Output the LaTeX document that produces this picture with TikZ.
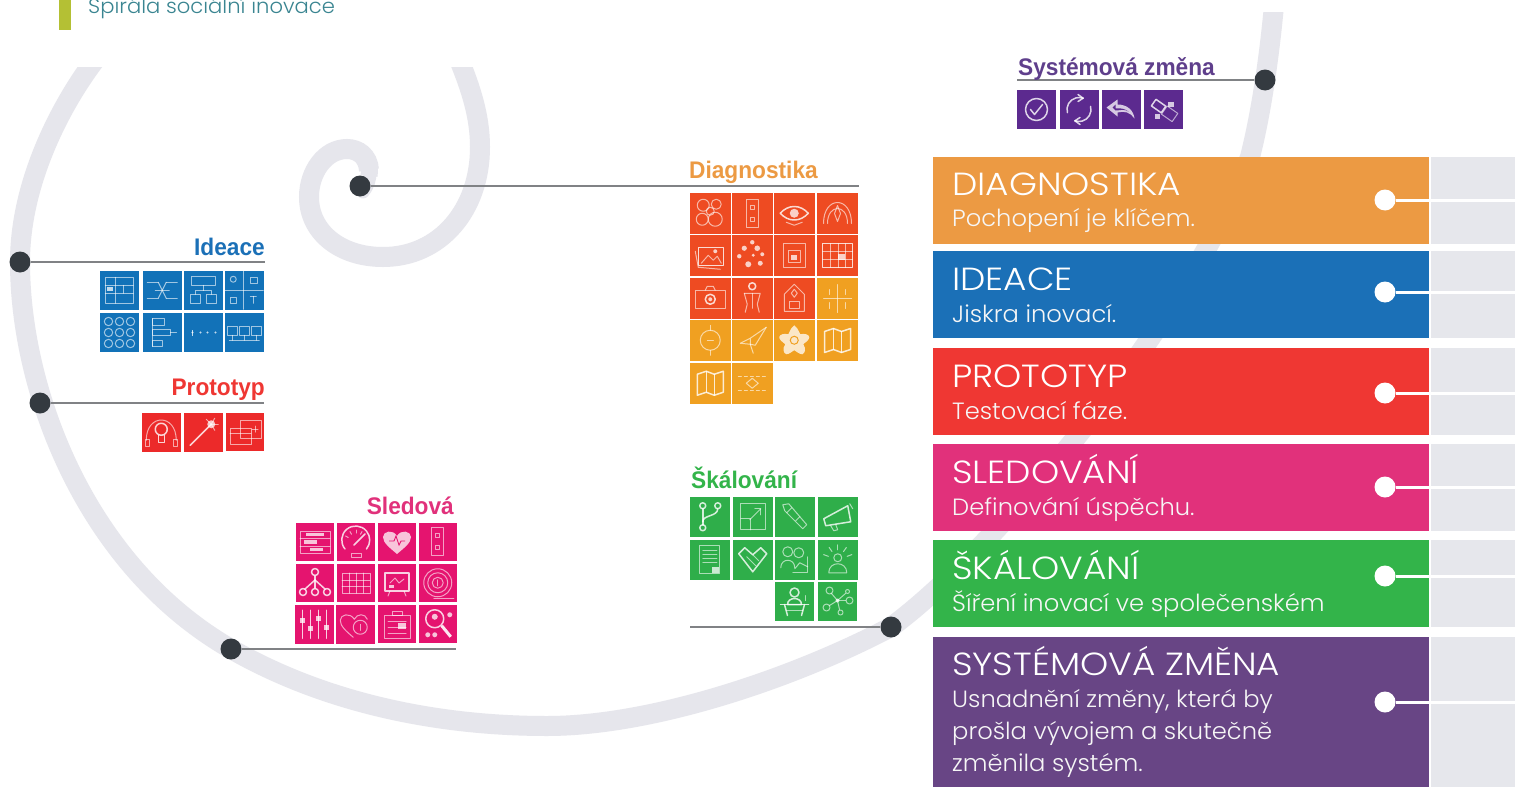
\documentclass[tikz,border=0pt]{standalone}
\usepackage{fontspec}
\setmainfont{Liberation Sans}
\newfontfamily\mont{Poppins Light}[FakeStretch=1.12]
\newfontfamily\monts{Poppins Light}[FakeStretch=1.03]
\newfontfamily\labf{Liberation Sans}[FakeStretch=.945]
\definecolor{band}{HTML}{E6E6EC}
\definecolor{pgray}{HTML}{E6E7EC}
\definecolor{dotc}{HTML}{343A40}
\definecolor{linec}{HTML}{808285}
\definecolor{pOrange}{HTML}{EC9A43}
\definecolor{pBlue}{HTML}{1B70B7}
\definecolor{pRed}{HTML}{EF3733}
\definecolor{pPink}{HTML}{E1317B}
\definecolor{pGreen}{HTML}{33B44A}
\definecolor{pPurple}{HTML}{684585}
\definecolor{tRedO}{HTML}{EE4B22}
\definecolor{tOr}{HTML}{F0A021}
\definecolor{tGreen}{HTML}{2FAE4A}
\definecolor{tPink}{HTML}{E5146F}
\definecolor{tBlue}{HTML}{1272B8}
\definecolor{tRed}{HTML}{EC2A2A}
\definecolor{tPurple}{HTML}{5C2A8F}
\definecolor{lPurple}{HTML}{5F3F8C}
\definecolor{oliveb}{HTML}{B4C034}
\definecolor{tealt}{HTML}{3A8591}
\tikzset{
  ic/.style={draw=white,draw opacity=.6,line width=1,fill=none,line cap=round,line join=round},
  icb/.style={draw=white,draw opacity=.8,line width=1.5,fill=none,line cap=round,line join=round},
  icf/.style={fill=white,fill opacity=.75},
  dotn/.style={circle,fill=dotc,minimum size=21,inner sep=0},
  wdot/.style={circle,fill=white,minimum size=21,inner sep=0},
  lead/.style={draw=linec,line width=2.8},
  wlead/.style={draw=white,line width=3},
  glabel/.style={font=\labf\bfseries\fontsize{24}{24}\selectfont,inner sep=0},
  ptitle/.style={font=\mont\fontsize{32}{32}\selectfont,text=white,anchor=base west,inner sep=0},
  psub/.style={font=\monts\fontsize{23.5}{32}\selectfont,text=white!93!gray,anchor=base west,inner sep=0},
  sband/.style={draw=band,line width=20},
}
\newcommand\tile[5]{\fill[#4] (#1,#2) rectangle ++(#3,#3);
  \begin{scope}[shift={(#1+#3/2,#2+#3/2)}]#5\end{scope}}
% ---- icons, local coordinates about the tile centre
\newcommand\icflower{\draw[ic](-7,-8) circle(6);\draw[ic](6,-9) circle(5);\draw[ic](-8,6) circle(6);\draw[ic](5,6) circle(7);\draw[ic](0,-2) circle(4);}
\newcommand\icdoor{\draw[ic](-6,-14) rectangle (6,14);\draw[ic](-2,-8) rectangle (2,-4);\draw[ic](-2,4) rectangle (2,8);}
\newcommand\iceye{\draw[icb](-14,0) .. controls (-6,-9) and (6,-9) .. (14,0) .. controls (6,9) and (-6,9) .. (-14,0);\fill[icf](0,0) circle(4.5);\draw[ic](-8,9) -- (0,12) -- (8,9);}
\newcommand\icphones{\draw[ic](-14,10) .. controls (-14,-18) and (14,-18) .. (14,10);\draw[ic](-10,10) .. controls (-10,-10) and (10,-10) .. (10,10);\draw[ic](0,-8) -- (3,0) -- (0,8) -- (-3,0) -- cycle;}
\newcommand\icphotos{\draw[icb](-12,-8) rectangle (13,10);\draw[ic](-15,-4) -- (-12,12) -- (10,14);\draw[ic](-9,8) -- (-2,0) -- (3,5) -- (7,1) -- (11,8);\fill[icf](5,-4) circle(2);}
\newcommand\icdots{\foreach \a/\b/\r in {0/-13/2.2,-8/-7/2.6,5/-7/2.8,-13/1/2.2,10/-1/2,-4/9/3,8/8/2.5,1/0/1.6}{\fill[icf](\a,\b) circle(\r);}}
\newcommand\icnest{\draw[ic](-11,-12) rectangle (11,12);\draw[ic](-6,-5) rectangle (6,7);\fill[icf](-3,0) rectangle (3,5);}
\newcommand\ictable{\draw[icb](-15,-12) rectangle (15,12);\foreach \v in {-7,1,8}{\draw[ic](\v,-12) -- (\v,12);}\foreach \h in {-4,4}{\draw[ic](-15,\h) -- (15,\h);}\fill[icf](0,-2) rectangle (7,4);}
\newcommand\iccamera{\draw[ic](-15,-8) rectangle (15,10);\draw[ic](-5,-8) -- (-3,-12) -- (3,-12) -- (5,-8);\draw[icb](0,1) circle(5);\fill[icf](0,1) circle(2);}
\newcommand\icperson{\draw[icb](0,-12) circle(3.5);\draw[ic](-8,-5) -- (8,-5) -- (5,6) -- (7,14);\draw[ic](-8,-5) -- (-5,6) -- (-7,14);\draw[ic](0,-5) -- (0,10);}
\newcommand\icarch{\draw[ic](-10,13) -- (-10,-4) -- (0,-14) -- (10,-4) -- (10,13) -- cycle;\draw[ic](-5,3) rectangle (5,10);\draw[ic](0,-9) -- (3,-5) -- (0,-1) -- (-3,-5) -- cycle;}
\newcommand\iccross{\draw[ic](0,-14) -- (0,14);\draw[ic](-14,0) -- (14,0);\draw[ic](-8,-9) -- (-8,-4);\draw[ic](8,-9) -- (8,-4);\draw[ic](-8,4) -- (-8,10);\draw[ic](8,4) -- (8,10);}
\newcommand\icring{\draw[ic](0,0) circle(10);\draw[ic](0,-15) -- (0,-10);\draw[ic](0,10) -- (0,15);\draw[ic](-3,0) -- (3,0);}
\newcommand\iccompass{\draw[ic](14,-13) -- (-2,-2) -- (-12,3) -- (-2,4) -- (-2,-2);\draw[ic](-2,4) -- (1,13);\draw[ic](14,-13) -- (3,5) -- (-2,4);}
\newcommand\icstar{\fill[icf](0,-15) .. controls (5,-11) and (4,-8) .. (6,-6) .. controls (10,-7) and (15,-6) .. (15,-3) .. controls (15,0) and (11,2) .. (9,4) .. controls (12,8) and (11,13) .. (8,14) .. controls (5,14) and (2,11) .. (0,10) .. controls (-2,11) and (-5,14) .. (-8,14) .. controls (-11,13) and (-12,8) .. (-9,4) .. controls (-11,2) and (-15,0) .. (-15,-3) .. controls (-15,-6) and (-10,-7) .. (-6,-6) .. controls (-4,-8) and (-5,-11) .. (0,-15) -- cycle;\draw[draw=tOr,line width=1](0,0) circle(4);}
\newcommand\icmap{\draw[icb](-13,-9) -- (-4,-12) -- (4,-9) -- (13,-12) -- (13,9) -- (4,12) -- (-4,9) -- (-13,12) -- cycle;\draw[icb](-4,-12) -- (-4,9);\draw[icb](4,-9) -- (4,12);}
\newcommand\icnet{\draw[ic,dashed](-14,-7) -- (14,-7);\draw[ic,dashed](-14,7) -- (14,7);\draw[ic](-6,0) -- (0,-5) -- (6,0) -- (0,5) -- cycle;}
\newcommand\icbranch{\draw[icb](-7,-11) circle(3);\draw[icb](8,-11) circle(3);\draw[icb](-7,11) circle(3);\draw[icb](-7,-8) -- (-7,8);\draw[icb](8,-8) .. controls (8,0) and (-7,-2) .. (-7,5);}
\newcommand\icexpand{\draw[ic](-12,-13) rectangle (13,13);\draw[ic](-12,2) -- (-2,2) -- (-2,13);\draw[ic](-3,3) -- (8,-8);\draw[ic](2,-8) -- (8,-8) -- (8,-2);}
\newcommand\ictool{\draw[ic](-12,-12) -- (-6,-13) -- (12,8) -- (8,12) -- (-10,-6) -- cycle;\draw[ic](-3,-9) -- (-8,-4);\draw[ic](5,0) -- (1,4);}
\newcommand\icmega{\draw[icb](-14,2) -- (10,-11) -- (13,5) -- (-12,9) -- cycle;\draw[ic](-7,9) -- (-4,14) -- (0,13) -- (-2,8);\draw[ic](12,-13) -- (15,-8);}
\newcommand\icdoc{\draw[ic](-10,-14) rectangle (10,14);\foreach \h in {-9,-5,-1,3}{\draw[ic](-7,\h) -- (7,\h);}\fill[icf](2,7) rectangle (9,13);}
\newcommand\ichand{\draw[icb](-14,-6) -- (-8,-12) -- (0,-5) -- (8,-12) -- (14,-6) -- (0,12) -- cycle;\draw[ic](-6,-3) -- (3,6);\draw[ic](0,-5) -- (6,1);}
\newcommand\icpeople{\draw[ic](-7,-8) circle(5);\draw[ic](4,-7) circle(5);\draw[ic](-14,8) .. controls (-14,-2) and (0,-2) .. (0,8);\draw[ic](-2,13) -- (13,13) -- (13,-3);\draw[ic](0,9) -- (5,3) -- (13,7);}
\newcommand\icrays{\draw[ic](0,-2) circle(4);\draw[ic](-9,13) .. controls (-9,1) and (9,1) .. (9,13) -- cycle;\foreach \a in {-160,-125,-90,-55,-20}{\draw[ic](\a:10) -- (\a:15);}}
\newcommand\icdesk{\draw[icb](0,-9) circle(4.5);\draw[icb](-7,3) .. controls (-7,-5) and (7,-5) .. (7,3) -- cycle;\draw[icb](-14,3) -- (14,3);\draw[icb](-10,3) -- (-7,14);\draw[icb](10,3) -- (7,14);\draw[ic](-8,9) -- (8,9);\draw[ic](11,-6) -- (11,-1);}
\newcommand\icnodes{\draw[ic](-8,-11) circle(3.5);\draw[ic](12,-1) circle(3.5);\draw[ic](-11,6) circle(3.5);\draw[ic](3,11) circle(2.5);\draw[ic](10,-10) circle(2);\draw[ic](0,-1) -- (-6,-8);\draw[ic](0,-1) -- (8,-1);\draw[ic](0,-1) -- (-8,4);\draw[ic](0,-1) -- (2,8);\draw[ic](0,-1) -- (8,-8);\fill[icf](0,-1) circle(2);}
\newcommand\icform{\draw[ic](-15,-11) rectangle (15,11);\draw[ic](-15,-4) -- (15,-4);\draw[ic](-15,4) -- (15,4);\fill[icf](-9,-9) rectangle (9,-6);\fill[icf](-11,-2) rectangle (2,2);\fill[icf](-5,6) rectangle (8,9);}
\newcommand\icgauge{\draw[icb](-11,7) arc (140:400:14);\draw[icb](-2,3) -- (9,-8);\draw[ic](-5,11) rectangle (5,15);\foreach \a in {-150,-120,-90,-60}{\draw[ic](\a:9) -- (\a:12);}}
\newcommand\icheart{\fill[icf](0,12) .. controls (-7,6) and (-14,1) .. (-14,-5) .. controls (-14,-11) and (-4,-13) .. (0,-6) .. controls (4,-13) and (14,-11) .. (14,-5) .. controls (14,1) and (7,6) .. (0,12) -- cycle;\draw[draw=tPink,line width=.9](-8,-1) -- (-3,-1) -- (-1,-6) -- (2,3) -- (4,-1) -- (8,-1);}
\newcommand\ictree{\draw[icb](0,-11) circle(3.5);\draw[icb](-12,9) circle(3.5);\draw[icb](0,9) circle(3.5);\draw[icb](12,9) circle(3.5);\draw[icb](0,-7) -- (0,5);\draw[icb](0,-3) -- (-10,6);\draw[icb](0,-3) -- (10,6);}
\newcommand\icgrid{\draw[ic](-14,-10) rectangle (14,10);\foreach \v in {-7,0,7}{\draw[ic](\v,-10) -- (\v,10);}\foreach \h in {-3,3}{\draw[ic](-14,\h) -- (14,\h);}}
\newcommand\ictv{\draw[icb](-12,-10) rectangle (12,8);\draw[ic](-7,8) -- (-9,13);\draw[ic](7,8) -- (9,13);\draw[ic](-7,0) -- (-2,-5) -- (2,0) -- (7,-4);\fill[icf](-8,2) rectangle (-3,5);}
\newcommand\ictarget{\draw[ic](0,0) circle(14);\draw[ic](0,0) circle(10);\draw[ic](0,0) circle(5.5);\draw[ic](0,-3) -- (0,3);\draw[ic](-4,16) -- (16,16);}
\newcommand\icsliders{\foreach \v/\h in {-12/-4,-4/4,4/-6,12/3}{\draw[icb](\v,-14) -- (\v,14);\fill[icf](\v-2.5,\h-2.5) rectangle (\v+2.5,\h+2.5);}}
\newcommand\icheartline{\draw[ic](-2,13) .. controls (-9,7) and (-15,2) .. (-15,-4) .. controls (-15,-10) and (-5,-12) .. (-1,-5) .. controls (2,-11) and (10,-11) .. (12,-5);\draw[ic](5,3) circle(7);\draw[ic](5,0) -- (5,6);}
\newcommand\icclip{\draw[ic](-13,-9) rectangle (13,14);\draw[ic](-5,-13) rectangle (5,-9);\foreach \h in {-3,3,9}{\draw[ic](-9,\h) -- (9,\h);}\fill[icf](1,-1) rectangle (9,5);}
\newcommand\icsearch{\draw[icb](-3,-5) circle(9);\fill[icf](-3,-7) circle(3);\draw[line width=3,draw=white,draw opacity=.9](4,2) -- (13,13);\fill[icf](-10,11) circle(2.5);\fill[icf](-3,11) circle(2.5);\fill[icf](12,-9) circle(2.5);}
\newcommand\icifl{\draw[ic](-14,-13) rectangle (14,13);\draw[ic](-14,-5) -- (14,-5);\draw[ic](-14,3) -- (14,3);\draw[ic](-4,-13) -- (-4,13);\fill[icf](-12,-3) rectangle (-6,1);\draw[ic](4,-5) -- (4,3);}
\newcommand\icflow{\draw[ic](-15,-8) -- (-4,-8);\draw[ic](4,-8) -- (15,-8);\draw[ic](-7,0) -- (7,0);\draw[ic](-15,8) -- (-4,8);\draw[ic](4,8) -- (15,8);\draw[ic](-4,-8) -- (0,0) -- (4,8);\draw[ic](4,-8) -- (0,0) -- (-4,8);}
\newcommand\icbox{\draw[ic](-12,-14) rectangle (12,-5);\draw[ic](-13,4) rectangle (-3,13);\draw[ic](3,4) rectangle (13,13);\draw[ic](0,-5) -- (0,0) -- (-8,0) -- (-8,4);\draw[ic](0,0) -- (8,0) -- (8,4);}
\newcommand\icquad{\draw[ic](-1,-19) -- (-1,19);\draw[ic](-19,0) -- (19,0);\draw[ic](-11,-11) circle(3);\draw[ic](6,-13) rectangle (13,-7);\draw[ic](-14,7) rectangle (-8,13);\draw[ic](9,6) -- (9,13);\draw[ic](6,6) -- (12,6);}
\newcommand\iccircs{\foreach \a in {-11,0,11}{\foreach \b in {-11,0,11}{\draw[ic](\a,\b) circle(4.2);}}}
\newcommand\icorg{\draw[ic](-10,-14) rectangle (2,-7);\draw[ic](-10,-14) -- (-10,14);\draw[ic](-10,-3) rectangle (8,3);\draw[ic](-10,8) rectangle (0,14);\draw[ic](8,0) -- (14,0);}
\newcommand\icddots{\foreach \a in {-11,-3,4,12}{\fill[icf](\a,0) circle(1.2);}\fill[icf](-12,-3) rectangle (-11,3);}
\newcommand\icthree{\foreach \a in {-12,0,12}{\draw[ic](\a-5,-6) rectangle (\a+5,3);}\draw[ic](-15,8) -- (15,8);\foreach \a in {-12,0,12}{\draw[ic](\a,3) -- (\a,8);}}
\newcommand\icbulb{\draw[ic](-15,8) .. controls (-15,-19) and (15,-19) .. (15,8);\draw[ic](-12,7) rectangle (-16,14);\draw[ic](12,7) rectangle (16,14);\draw[icb](0,-3) circle(6);\draw[icb](-3,3) -- (-3,10) -- (3,10) -- (3,3);}
\newcommand\icwand{\draw[icb](-13,13) -- (8,-8);\fill[icf](8,-8) circle(4);\foreach \a in {-135,-60,0,60}{\draw[ic](8,-8) -- ++(\a:7);}}
\newcommand\iccards{\draw[ic](-5,-12) rectangle (16,6);\draw[ic](-15,-4) rectangle (6,12);\draw[ic](-15,1) -- (6,1);\draw[ic](10,-6) -- (10,0);\draw[ic](7,-3) -- (13,-3);}
\newcommand\iccheck{\draw[icb](0,0) circle(11);\draw[icb](-6,0) -- (-2,5) -- (6,-5);}
\newcommand\iccycle{\draw[icb](-11.6,3.1) arc (165:290:12);\draw[icb](11.6,-3.1) arc (345:470:12);\draw[icb](4.1,-11.3) -- (-1,-15);\draw[icb](4.1,-11.3) -- (-1,-8);\draw[icb](-4.1,11.3) -- (1,15);\draw[icb](-4.1,11.3) -- (1,8);}
\newcommand\icback{\fill[icf](-15,-2) -- (-4,-10) -- (-4,-5) .. controls (6,-5) and (12,1) .. (13,9) .. controls (9,3) and (3,1) .. (-4,3) -- (-4,7) -- cycle;\fill[tPurple](-9,-2) -- (-6,-5) -- (-6,-1) .. controls (0,-2) and (4,0) .. (7,2) .. controls (3,-1) and (-2,1) .. (-6,1) -- cycle;}
\newcommand\iclinks{\draw[icb,rotate=-35](-12,-4) rectangle (0,4);\draw[ic,rotate=-35](1,-5) rectangle (14,5);\fill[icf](4,-8) rectangle (10,-3);\fill[icf](-9,4) rectangle (-4,9);}
\begin{document}
\begin{tikzpicture}[x=1pt,y=-1pt]
\useasboundingbox (0,0) rectangle (1515,787);
\fill[white] (0,0) rectangle (1515,787);
% spiral
\begin{scope}
\clip (0,67) -- (700,67) -- (700,12) -- (1515,12) -- (1515,787) -- (0,787) -- cycle;
\draw[band,line width=13,line cap=round] (370,172) .. controls (370,180) and (368,186) .. (363,192);
\draw[band,line width=17] (369,176) .. controls (370,170) and (369,166) .. (368,162);
\draw[sband] (369,170) .. controls (368,156) and (358,149) .. (347,149)
  .. controls (325,149) and (309,172) .. (309,197)
  .. controls (309,232) and (340,257) .. (383,257)
  .. controls (440,257) and (480,210) .. (480,147)
  .. controls (480,115) and (470,85) .. (455,50);
\draw[sband] (110,42) .. controls (75,80) and (20,170) .. (20,262)
  .. controls (20,390) and (85,565) .. (231,649)
  .. controls (320,700) and (430,726) .. (547,726)
  .. controls (650,726) and (790,680) .. (891,627)
  .. controls (990,555) and (1190,320) .. (1250,157)
  .. controls (1262,110) and (1270,50) .. (1274,5);
\end{scope}
% header
\fill[oliveb] (59,0) rectangle (71,30);
\node[font=\monts\fontsize{20.5}{20}\selectfont,text=tealt,anchor=base west,inner sep=0] (head) at (88,13) {Spirála sociální inovace};
% right panels
\foreach \t/\b/\c in {157/244/pOrange,251/338/pBlue,348/435/pRed,444/531/pPink,540/627/pGreen,637/787/pPurple}{
  \fill[\c] (933,\t) rectangle (1429,\b);
  \fill[pgray] (1430.5,\t) rectangle (1515,\b);
}
\foreach \n/\y in {a/200,b/292,c/393,d/487,e/576,f/702}{
  \node[wdot] (w\n) at (1385,\y) {};
  \coordinate (we\n) at (1515,\y);
  \draw[wlead] (w\n) -- (we\n);
}
\node[ptitle] (t1) at (952,195) {DIAGNOSTIKA};
\node[psub] (s1) at (952,226) {Pochopení je klíčem.};
\node[ptitle] (t2) at (952,290) {IDEACE};
\node[psub] (s2) at (952,322) {Jiskra inovací.};
\node[ptitle] (t3) at (952,387) {PROTOTYP};
\node[psub] (s3) at (952,419) {Testovací fáze.};
\node[ptitle] (t4) at (952,483) {SLEDOVÁNÍ};
\node[psub] (s4) at (952,515) {Definování úspěchu.};
\node[ptitle] (t5) at (952,579) {ŠKÁLOVÁNÍ};
\node[psub] (s5) at (952,611) {Šíření inovací ve společenském};
\node[ptitle] (t6) at (952,675) {SYSTÉMOVÁ ZMĚNA};
\node[psub] (s6a) at (952,707) {Usnadnění změny, která by};
\node[psub] (s6b) at (952,739) {prošla vývojem a skutečně};
\node[psub] (s6c) at (952,771) {změnila systém.};
% leader lines and dots
\node[dotn] (d1) at (360,186) {}; \coordinate (e1) at (859,186);
\node[dotn] (d2) at (20,262) {};  \coordinate (e2) at (265,262);
\node[dotn] (d3) at (40,403) {};  \coordinate (e3) at (264,403);
\node[dotn] (d4) at (231,649) {}; \coordinate (e4) at (456,649);
\node[dotn] (d5) at (891,627) {}; \coordinate (e5) at (690,627);
\node[dotn] (d6) at (1265,80) {}; \coordinate (e6) at (1017,80);
\foreach \i in {1,...,6}{\draw[lead] (d\i) -- (e\i);}
% group labels
\node[glabel,text=pOrange,anchor=base west] (l1) at (689,178) {Diagnostika};
\node[glabel,text=pBlue,anchor=base east] (l2) at (265,255) {Ideace};
\node[glabel,text=pRed,anchor=base east] (l3) at (265,395) {Prototyp};
\node[glabel,text=pPink,anchor=base east] (l4) at (454,514) {Sledová};
\node[glabel,text=pGreen,anchor=base west] (l5) at (691,488) {Škálování};
\node[glabel,text=lPurple,anchor=base west] (l6) at (1018,75) {Systémová změna};
% Diagnostika tiles
\tile{690}{193}{40.5}{tRedO}{\icflower}
\tile{732}{193}{40.5}{tRedO}{\icdoor}
\tile{774}{193}{40.5}{tRedO}{\iceye}
\tile{817}{193}{41}{tRedO}{\icphones}
\tile{690}{235}{40.5}{tRedO}{\icphotos}
\tile{732}{235}{40.5}{tRedO}{\icdots}
\tile{774}{235}{40.5}{tRedO}{\icnest}
\tile{817}{235}{41}{tRedO}{\ictable}
\tile{690}{278}{40.5}{tRedO}{\iccamera}
\tile{732}{278}{40.5}{tRedO}{\icperson}
\tile{774}{278}{40.5}{tRedO}{\icarch}
\tile{817}{278}{41}{tOr}{\iccross}
\tile{690}{320}{40.5}{tOr}{\icring}
\tile{732}{320}{40.5}{tOr}{\iccompass}
\tile{774}{320}{40.5}{tOr}{\icstar}
\tile{817}{320}{41}{tOr}{\icmap}
\tile{690}{363}{40.5}{tOr}{\icmap}
\tile{732}{363}{40.5}{tOr}{\icnet}
% Skalovani tiles
\tile{690}{497}{39.5}{tGreen}{\icbranch}
\tile{733}{497}{39.5}{tGreen}{\icexpand}
\tile{775}{497}{39.5}{tGreen}{\ictool}
\tile{818}{497}{39.5}{tGreen}{\icmega}
\tile{690}{540}{39.5}{tGreen}{\icdoc}
\tile{733}{540}{39.5}{tGreen}{\ichand}
\tile{775}{540}{39.5}{tGreen}{\icpeople}
\tile{818}{540}{39.5}{tGreen}{\icrays}
\tile{775}{582}{39}{tGreen}{\icdesk}
\tile{818}{582}{39}{tGreen}{\icnodes}
% Sledova tiles
\tile{296}{523}{38}{tPink}{\icform}
\tile{337}{523}{38}{tPink}{\icgauge}
\tile{378}{523}{38}{tPink}{\icheart}
\tile{419}{523}{37.5}{tPink}{\icdoor}
\tile{296}{564}{38}{tPink}{\ictree}
\tile{337}{564}{38}{tPink}{\icgrid}
\tile{378}{564}{38}{tPink}{\ictv}
\tile{419}{564}{37.5}{tPink}{\ictarget}
\tile{295}{605}{38.5}{tPink}{\icsliders}
\tile{336}{605}{38.5}{tPink}{\icheartline}
\tile{378}{605}{38}{tPink}{\icclip}
\tile{419}{605}{37.5}{tPink}{\icsearch}
% Ideace tiles
\tile{100}{271}{38.5}{tBlue}{\icifl}
\tile{143}{271}{38.5}{tBlue}{\icflow}
\tile{184}{271}{38.5}{tBlue}{\icbox}
\tile{225}{271}{38.5}{tBlue}{\icquad}
\tile{100}{313}{39}{tBlue}{\iccircs}
\tile{143}{313}{39}{tBlue}{\icorg}
\tile{184}{313}{39}{tBlue}{\icddots}
\tile{225}{313}{38.5}{tBlue}{\icthree}
% Prototyp tiles
\tile{142}{413}{38.5}{tRed}{\icbulb}
\tile{184}{413}{38.5}{tRed}{\icwand}
\tile{226}{413}{38}{tRed}{\iccards}
% Systemova tiles
\tile{1017}{90}{39}{tPurple}{\iccheck}
\tile{1059.5}{90}{39}{tPurple}{\iccycle}
\tile{1102}{90}{39}{tPurple}{\icback}
\tile{1144}{90}{39}{tPurple}{\iclinks}
\end{tikzpicture}
\end{document}
